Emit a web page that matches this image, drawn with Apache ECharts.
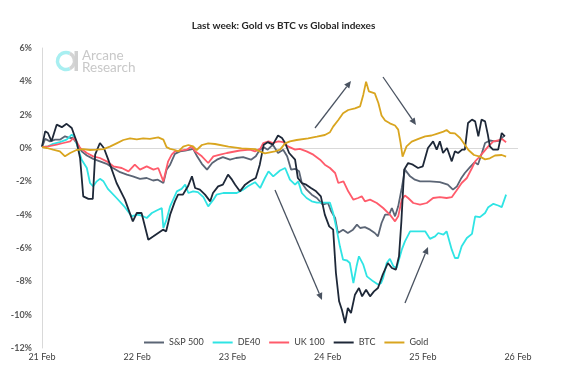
<!DOCTYPE html>
<html><head><meta charset="utf-8">
<script src="https://cdn.jsdelivr.net/npm/echarts@6/dist/echarts.min.js"></script>
<style>html,body{margin:0;padding:0;background:#fff}#c{width:567px;height:380px}</style>
</head><body><div id="c"></div>
<script>
// x = hours since 21 Feb 00:00, y = % change
const dateLabels = ['21 Feb', '22 Feb', '23 Feb', '24 Feb', '25 Feb', '26 Feb'];
const seriesNames = ['S&P 500', 'DE40', 'UK 100', 'BTC', 'Gold'];

const sp500 = [[0,0.05],[0.8,0.55],[2.0,0.4],[3.3,0.5],[4.5,0.5],[5.8,0.7],[7.1,0.6],[7.8,0.6],[8.7,0.3],[10.0,-0.2],[11.3,-0.45],[12.9,-0.65],[14.6,-0.8],[16.3,-0.95],[17.9,-1.2],[19.7,-1.45],[21.4,-1.6],[22.9,-1.7],[24.7,-1.85],[26.4,-1.8],[28.0,-1.95],[29.2,-1.9],[30.6,-2.1],[31.4,-1.3],[32.3,-1.0],[33.5,-0.35],[34.8,-0.2],[36.1,-0.15],[37.3,-0.1],[38.1,-0.05],[39.1,-0.5],[40.3,-0.95],[41.6,-1.3],[42.9,-0.9],[44.1,-0.7],[45.6,-0.55],[47.4,-0.7],[48.9,-0.6],[50.7,-0.55],[52.7,-0.7],[53.9,-0.5],[54.9,-0.1],[55.9,0.05],[56.9,-0.1],[58.2,0.2],[59.5,-0.3],[60.8,-0.1],[61.8,-0.5],[62.8,-1.3],[63.8,-1.25],[64.8,-1.4],[65.5,-2.1],[66.7,-2.5],[68.0,-2.8],[69.3,-3.0],[70.8,-3.4],[72.1,-3.3],[72.9,-3.8],[73.9,-4.2],[74.6,-5.1],[75.9,-4.9],[77.1,-5.1],[78.4,-4.9],[79.4,-4.6],[80.2,-4.8],[81.4,-4.75],[82.7,-4.9],[83.9,-5.1],[84.7,-5.3],[85.6,-4.5],[86.5,-4.0],[87.5,-4.0],[88.2,-3.6],[89.0,-4.1],[89.8,-3.5],[90.7,-2.4],[91.5,-1.3],[92.8,-1.7],[94.0,-1.9],[95.3,-2.0],[97.8,-2.0],[100.3,-2.05],[102.3,-2.2],[103.6,-2.5],[104.6,-2.3],[105.6,-1.85],[106.6,-1.5],[107.9,-1.15],[109.1,-0.85],[109.9,-1.0],[110.9,-0.3],[111.7,0.3],[112.9,0.45],[114.2,0.4],[115.5,0.45],[116.5,0.75]];

const de40 = [[0,0.05],[1.5,0.1],[2.8,0.25],[4.5,0.35],[6.2,0.5],[7.5,0.8],[8.3,0.6],[9.2,-0.1],[10.0,-0.7],[11.3,-1.2],[12.1,-2.1],[12.9,-2.3],[13.8,-2.0],[14.6,-1.85],[15.5,-2.0],[16.6,-2.45],[18.8,-3.0],[20.9,-3.55],[22.6,-4.1],[23.9,-4.0],[25.1,-4.05],[26.4,-4.2],[27.7,-3.9],[28.9,-3.75],[30.2,-3.6],[30.6,-4.8],[31.4,-4.3],[32.3,-3.5],[34.0,-2.6],[35.2,-2.45],[36.1,-2.2],[36.9,-2.7],[38.1,-2.6],[39.3,-2.65],[40.7,-2.95],[41.9,-3.5],[43.2,-3.1],[44.0,-2.8],[45.7,-2.7],[47.4,-2.7],[49.1,-2.7],[50.7,-2.5],[51.9,-2.3],[53.7,-2.05],[55.0,-2.4],[56.2,-1.8],[57.1,-1.4],[58.3,-1.7],[60.0,-1.35],[61.3,-1.2],[62.5,-1.9],[63.8,-2.2],[64.6,-2.0],[65.5,-2.7],[66.7,-3.0],[68.0,-3.2],[69.3,-3.28],[72.6,-3.28],[73.4,-3.9],[74.3,-4.9],[75.1,-5.9],[75.9,-6.7],[76.9,-6.75],[77.6,-6.9],[78.5,-8.1],[79.3,-7.1],[79.9,-6.5],[81.0,-7.0],[81.9,-7.7],[83.5,-8.0],[84.8,-8.2],[85.5,-8.1],[86.0,-7.8],[86.9,-6.9],[87.7,-6.65],[88.6,-7.1],[89.4,-7.2],[90.7,-6.1],[91.5,-5.6],[92.8,-5.0],[96.6,-5.0],[97.8,-5.45],[99.1,-5.3],[99.9,-5.1],[101.2,-5.2],[102.0,-5.0],[103.3,-6.1],[104.1,-6.6],[104.9,-6.6],[105.8,-5.9],[107.1,-5.4],[108.4,-5.15],[109.2,-4.1],[110.4,-4.15],[111.7,-3.9],[112.5,-3.55],[113.8,-3.35],[115.0,-3.45],[115.9,-3.55],[117.0,-2.8]];

const uk100 = [[0,0.05],[1.5,0.1],[3.7,0.2],[5.4,0.3],[7.1,0.4],[7.9,0.6],[8.7,0.4],[9.6,0.0],[11.3,-0.3],[12.9,-0.5],[14.6,-0.6],[16.3,-0.8],[18.0,-1.1],[20.1,-1.2],[21.8,-1.4],[23.4,-1.0],[24.7,-1.3],[26.4,-1.1],[28.1,-1.3],[29.3,-1.2],[30.6,-2.0],[31.8,-0.8],[32.7,-0.4],[33.5,-0.2],[36.5,-0.1],[37.7,0.1],[38.6,-0.2],[40.3,-0.5],[41.9,-0.9],[43.2,-0.5],[44.9,-0.4],[46.6,-0.3],[49.9,-0.15],[52.4,-0.1],[53.7,-0.2],[55.0,-0.05],[55.8,0.3],[57.1,0.4],[58.2,0.3],[59.6,0.4],[60.8,0.35],[62.0,0.1],[63.8,-0.1],[65.0,-0.05],[66.7,-0.2],[68.4,-0.4],[70.1,-0.7],[71.3,-1.0],[72.6,-1.2],[73.9,-1.5],[74.7,-2.1],[76.0,-2.0],[77.2,-2.6],[78.5,-3.1],[79.7,-3.0],[80.6,-2.9],[81.4,-3.2],[82.7,-3.1],[84.4,-3.3],[86.0,-3.6],[87.7,-4.0],[89.0,-4.4],[89.8,-4.1],[90.7,-3.1],[91.5,-2.85],[92.3,-3.0],[93.6,-3.3],[95.3,-3.4],[97.0,-3.3],[98.6,-3.0],[100.3,-2.95],[102.0,-3.0],[103.3,-2.95],[104.5,-2.55],[105.8,-2.1],[107.1,-1.8],[108.4,-1.2],[109.2,-0.8],[110.0,-0.6],[111.3,-0.25],[112.5,0.1],[113.8,0.4],[115.0,0.45],[115.9,0.55],[117.0,0.35]];

const btc = [[0,0.1],[0.8,1.0],[1.5,0.9],[2.4,0.4],[3.7,1.4],[5.0,1.25],[6.2,1.45],[7.5,1.2],[8.7,0.4],[9.6,-0.6],[10.4,-2.9],[11.7,-3.05],[12.8,-3.05],[13.4,-0.4],[14.6,0.3],[15.6,0.0],[16.7,-0.7],[18.8,-2.1],[20.9,-3.1],[22.9,-4.4],[23.9,-3.9],[25.1,-3.9],[26.8,-5.5],[28.1,-5.3],[29.3,-5.1],[30.5,-4.9],[31.3,-5.0],[32.3,-4.0],[33.5,-3.2],[34.3,-2.8],[35.5,-2.8],[36.8,-2.3],[37.8,-1.7],[38.6,-2.4],[39.8,-2.5],[41.1,-2.8],[42.4,-3.2],[43.1,-2.7],[44.4,-2.3],[45.6,-2.2],[46.9,-1.6],[47.9,-1.9],[48.7,-2.2],[49.9,-2.6],[51.2,-2.2],[52.4,-2.0],[53.9,-1.8],[54.9,-1.0],[55.9,0.2],[56.9,0.35],[58.2,0.2],[59.5,0.75],[60.5,0.6],[61.3,0.3],[62.3,-0.3],[63.8,-0.7],[64.5,-1.8],[65.5,-2.1],[66.6,-2.2],[67.8,-2.4],[69.1,-2.6],[70.3,-2.9],[71.3,-4.0],[72.4,-4.7],[73.4,-4.9],[74.1,-7.5],[74.9,-9.2],[75.6,-9.7],[76.4,-10.5],[77.1,-9.6],[77.9,-9.9],[78.9,-8.8],[79.9,-8.4],[80.7,-8.9],[81.7,-8.5],[82.7,-8.9],[83.7,-8.6],[84.7,-8.4],[85.9,-7.6],[87.2,-6.9],[88.2,-7.2],[89.2,-7.3],[90.0,-6.5],[90.6,-4.4],[91.3,-1.3],[92.3,-0.9],[93.5,-1.0],[94.8,-1.2],[96.0,-1.1],[97.3,0.0],[98.6,0.4],[99.5,-0.1],[100.3,0.4],[101.1,-0.3],[102.1,0.0],[103.3,-0.8],[104.1,-0.2],[104.9,-0.3],[105.9,-0.1],[106.6,-0.1],[107.4,1.5],[108.4,1.7],[109.2,1.6],[110.0,0.7],[110.8,1.7],[111.7,1.6],[112.4,0.8],[112.9,0.1],[113.7,-0.1],[115.0,-0.1],[115.9,0.9],[116.7,0.7]];

const gold = [[0,0.05],[1.2,0.0],[2.8,-0.1],[4.5,-0.2],[5.8,-0.5],[7.1,-0.3],[8.7,-0.12],[10.4,-0.07],[12.1,-0.12],[13.8,-0.1],[15.5,-0.07],[17.1,0.08],[18.8,0.28],[20.5,0.48],[22.2,0.58],[23.9,0.52],[25.5,0.58],[27.2,0.55],[29.3,0.64],[30.6,0.5],[31.4,0.05],[32.3,-0.05],[33.5,-0.12],[34.4,-0.2],[35.6,0.08],[36.9,0.18],[38.1,0.1],[39.0,-0.12],[40.3,0.18],[41.9,0.28],[43.6,0.24],[47.0,0.08],[50.3,-0.02],[53.7,-0.07],[55.0,-0.22],[56.2,-0.32],[58.7,-0.2],[60.0,-0.1],[61.3,0.28],[62.5,0.4],[64.2,0.48],[67.1,0.58],[69.3,0.68],[71.3,0.78],[72.6,0.95],[73.4,1.28],[74.7,1.68],[75.9,2.08],[77.2,2.28],[78.9,2.38],[80.2,2.5],[81.0,3.2],[81.7,3.98],[82.4,3.4],[83.9,3.28],[84.8,2.7],[85.6,1.95],[86.5,1.65],[87.7,1.48],[89.0,1.35],[89.8,1.1],[90.4,0.3],[90.9,-0.52],[91.9,0.1],[93.2,0.38],[94.9,0.55],[96.6,0.7],[98.2,0.75],[99.5,0.85],[101.2,0.98],[102.0,1.08],[102.9,0.9],[104.1,0.88],[105.4,0.6],[106.6,0.2],[107.5,-0.12],[108.9,-0.42],[110.4,-0.52],[111.7,-0.68],[112.9,-0.62],[114.2,-0.45],[115.9,-0.42],[117.0,-0.52]];

const seriesData = [sp500, de40, uk100, btc, gold];
const colors = ['#5b6575', '#2fe4e4', '#ff5b6b', '#1e2838', '#d9a51f'];
const FONT = 'Lato, "Open Sans", sans-serif';

// annotation arrows (pixel space): [x1, y1, x2, y2]
const arrows = [[315,128,351,81],[383,77,416,125],[275,190,322,300],[405,303,428,247]];
function arrowEls(a){
  const [x1,y1,x2,y2] = a;
  const ang = Math.atan2(y2-y1, x2-x1);
  const L = 7, W = 3.2;
  const bx = x2 - L*Math.cos(ang), by = y2 - L*Math.sin(ang);
  const nx = -Math.sin(ang), ny = Math.cos(ang);
  const col = '#4a5361';
  return [
    {type:'line', shape:{x1:x1,y1:y1,x2:bx,y2:by}, style:{stroke:col, lineWidth:1.3}, z:20},
    {type:'polygon', shape:{points:[[x2,y2],[bx+W*nx,by+W*ny],[bx-W*nx,by-W*ny]]}, style:{fill:col}, z:20}
  ];
}
let graphics = [];
arrows.forEach(a => graphics = graphics.concat(arrowEls(a)));
// watermark logo
graphics.push(
  {type:'arc', shape:{cx:66, cy:61, r:8.5, startAngle: Math.PI*0.35, endAngle: Math.PI*1.65, clockwise:true}, style:{stroke:'#a8eff1', lineWidth:3.5, fill:null}, z:1},
  {type:'arc', shape:{cx:66, cy:61, r:8.5, startAngle: -Math.PI*0.35, endAngle: Math.PI*0.35, clockwise:true}, style:{stroke:'#d4d4d4', lineWidth:3.5, fill:null}, z:1},
  {type:'rect', shape:{x:74.5, y:51, width:3.5, height:20}, style:{fill:'#d0d0d0'}, z:1},
  {type:'text', style:{x:82, y:56, text:'Arcane', fill:'#c8c8c8', font:'13.5px Lato', verticalAlign:'middle'}, z:1},
  {type:'text', style:{x:82, y:67.5, text:'Research', fill:'#c8c8c8', font:'13.5px Lato', verticalAlign:'middle'}, z:1}
);

const chart = echarts.init(document.getElementById('c'), null, {renderer:'canvas'});
chart.setOption({
  animation: false,
  backgroundColor: '#fff',
  title: {
    text: 'Last week: Gold vs BTC vs Global indexes',
    left: 'center', top: 16,
    textStyle: {fontFamily: FONT, fontSize: 10, fontWeight: 'bold', color: '#262626'}
  },
  grid: {left: 42, right: 49, top: 48, bottom: 32, containLabel: false},
  legend: {
    data: seriesNames,
    left: 139, top: 333,
    itemWidth: 20, itemHeight: 2, itemGap: 9,
    icon: 'rect',
    textStyle: {fontFamily: FONT, fontSize: 9, color: '#404040'}
  },
  xAxis: {
    type: 'value', min: 0, max: 120, interval: 24,
    axisLine: {show: false}, axisTick: {show: false}, splitLine: {show: false},
    axisLabel: {
      margin: 5, fontFamily: FONT, fontSize: 9, color: '#404040',
      formatter: v => dateLabels[Math.round(v/24)] || ''
    }
  },
  yAxis: {
    type: 'value', min: -12, max: 6, interval: 2,
    axisLine: {show: true, lineStyle: {color: '#d9d9d9', width: 1}},
    axisTick: {show: false}, splitLine: {show: false},
    axisLabel: {margin: 10, fontFamily: FONT, fontSize: 9, fontWeight: 'bold', color: '#595959', formatter: v => v + '%'}
  },
  graphic: graphics,
  series: seriesNames.map((name, i) => ({
    name: name,
    type: 'line',
    data: seriesData[i],
    showSymbol: false,
    symbol: 'none',
    smooth: false,
    color: colors[i],
    lineStyle: {width: 1.8, color: colors[i]},
    z: 5 + i,
    markLine: i === 0 ? {
      silent: true, symbol: 'none', label: {show: false},
      lineStyle: {color: '#d9d9d9', type: 'solid', width: 1},
      data: [{yAxis: 0}], z: 1
    } : undefined
  }))
});
</script></body></html>
